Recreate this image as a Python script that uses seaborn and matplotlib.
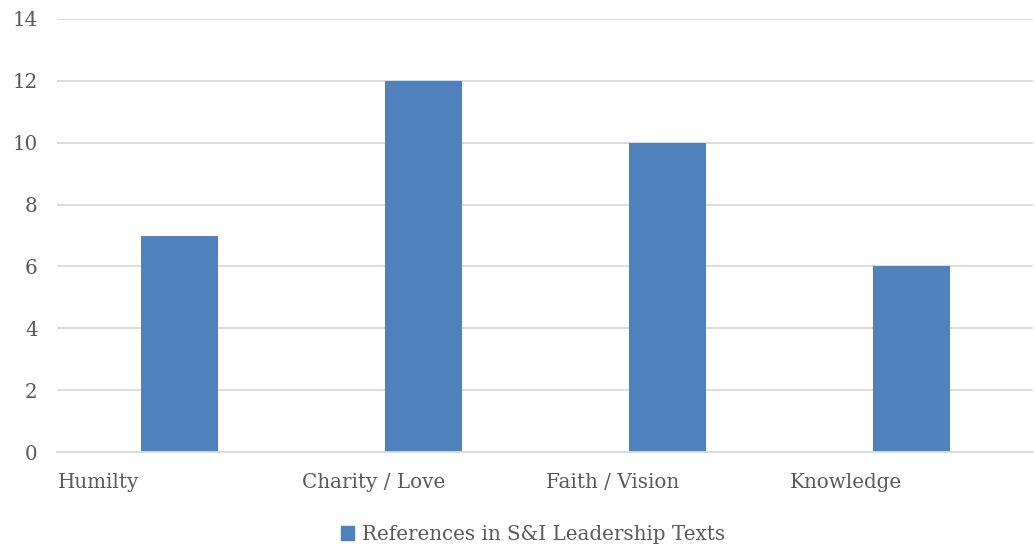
import matplotlib
matplotlib.use("Agg")
import matplotlib.pyplot as plt
import seaborn as sns
import pandas as pd
import numpy as np
from matplotlib.patches import Patch

categories = ["Humilty", "Charity / Love", "Faith / Vision", "Knowledge"]
values = [7, 12, 10, 6]
series_name = "References in S&I Leadership Texts"
y_ticks = [0, 2, 4, 6, 8, 10, 12, 14]

sns.set_theme(style="white")
plt.rcParams['font.family'] = ['DejaVu Serif']
text_color = "#595959"
bar_color = "#4F81BD"

df = pd.DataFrame({"cat": categories, "val": values})

fig = plt.figure(figsize=(10.34, 5.48), dpi=100)
ax = fig.add_axes([57/1034, (548-452)/548, (1033-57)/1034, (452-19)/548])

sns.barplot(data=df, x="cat", y="val", color=bar_color, width=77/244,
            saturation=1, ax=ax, order=categories, linewidth=0)

offset = 0.5
ax.set_xlim(-offset, len(categories) - offset)
ax.set_ylim(0, 14)
ax.set_yticks(y_ticks)
ax.set_yticklabels([str(t) for t in y_ticks], fontsize=14.3, color=text_color)
ax.set_xticks(np.arange(len(categories)) - offset + 0.005)
ax.set_xticklabels(categories, fontsize=14.3, color=text_color, ha="left")
ax.tick_params(axis="x", length=0, pad=15)
ax.tick_params(axis="y", length=0, pad=14)
ax.set_xlabel("")
ax.set_ylabel("")
ax.grid(axis="y", color="#D9D9D9", linewidth=1.3)
ax.set_axisbelow(True)
for s in ["top", "right", "left"]:
    ax.spines[s].set_visible(False)
ax.spines["bottom"].set_color("#D9D9D9")
ax.spines["bottom"].set_linewidth(1.3)

handles = [Patch(facecolor=bar_color, edgecolor=bar_color, label=series_name)]
fig.legend(handles=handles, loc="center", bbox_to_anchor=(533/1034, 1 - 534/548),
           frameon=False, fontsize=14.3, handlelength=0.7, handleheight=0.7,
           handletextpad=0.4, labelcolor=text_color)

fig.savefig("out.png", dpi=100)
